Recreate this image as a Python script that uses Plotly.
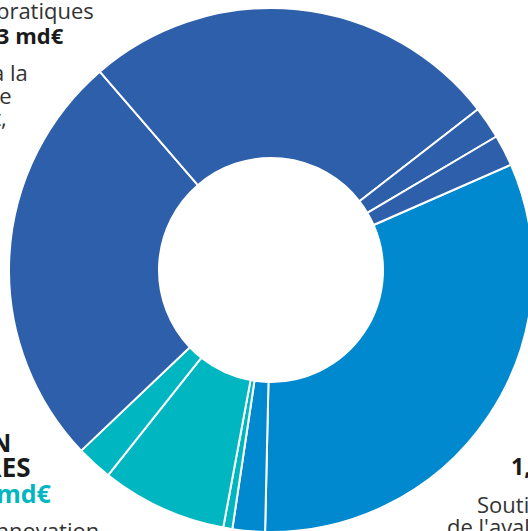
import plotly.graph_objects as go

# Slices (md€), clockwise starting at ~66° from 12 o'clock
labels = [
    "Soutien de l'aval (1)", "Soutien de l'aval (2)",
    "Innovation (1)", "Innovation (2)", "Innovation (3)",
    "Pratiques (1)", "Pratiques (2)", "Pratiques (3)", "Pratiques (4)",
]
values = [1.31, 0.082, 0.023, 0.318, 0.091, 1.057, 1.059, 0.082, 0.079]
groups = ["aval", "aval", "innov", "innov", "innov",
          "prat", "prat", "prat", "prat"]
group_colors = {"aval": "#0089CF", "innov": "#00B6C0", "prat": "#2E5FAA"}

# Text blocks: (text, x_px, baseline_px, anchor, size, bold, colour)
texts = [
    ("Soutien aux bonnes pratiques", 95.5, 17, "right", 22, False, "#333333"),
    ("2,3 md€", 66, 42, "right", 22, True, "#1a1a1a"),
    ("Aide à la", 29.5, 79, "right", 22, False, "#333333"),
    ("transition agroécologique", 13.5, 102, "right", 22, False, "#333333"),
    ("et climat,", 9, 124, "right", 22, False, "#333333"),
    ("INNOVATION", 12.5, 450, "right", 25, True, "#1a1a1a"),
    ("DES FILIÈRES", 33, 475, "right", 26, True, "#1a1a1a"),
    ("0,4 md€", 54, 501, "right", 25, True, "#00B6C0"),
    ("Soutien à l'innovation", 101, 537, "right", 22, False, "#333333"),
    ("1,4 md€", 509, 473, "left", 23, True, "#1a1a1a"),
    ("Soutien à la structuration", 475, 511, "left", 22, False, "#333333"),
    ("de l'aval de la filière", 445, 533, "left", 22, False, "#333333"),
]

W, H = 545, 545
cx, cy, R = 271, 270, 262
hole_r = 112

fig = go.Figure(go.Pie(
    labels=labels, values=values, sort=False, direction="clockwise",
    rotation=66.3, hole=hole_r / R,
    marker=dict(colors=[group_colors[g] for g in groups],
                line=dict(color="white", width=2)),
    textinfo="none", hoverinfo="label+value", showlegend=False,
    domain=dict(x=[(cx - R) / W, (cx + R) / W],
                y=[(H - cy - R) / H, (H - cy + R) / H]),
))

for t, x, base, anchor, fs, bold, col in texts:
    fig.add_annotation(
        text=f"<b>{t}</b>" if bold else t,
        x=x / W, y=1 - (base - 0.32 * fs) / H, xref="paper", yref="paper",
        xanchor=anchor, yanchor="middle", showarrow=False,
        font=dict(family="Open Sans", size=fs, color=col),
    )

fig.update_layout(width=W, height=H, margin=dict(l=0, r=0, t=0, b=0),
                  paper_bgcolor="white", plot_bgcolor="white")
fig.write_html(
    "out.html",
    config={"displayModeBar": False},
    post_script="document.body.style.margin='0';"
                "document.body.style.overflow='hidden';"
                "document.documentElement.style.overflow='hidden';",
)
